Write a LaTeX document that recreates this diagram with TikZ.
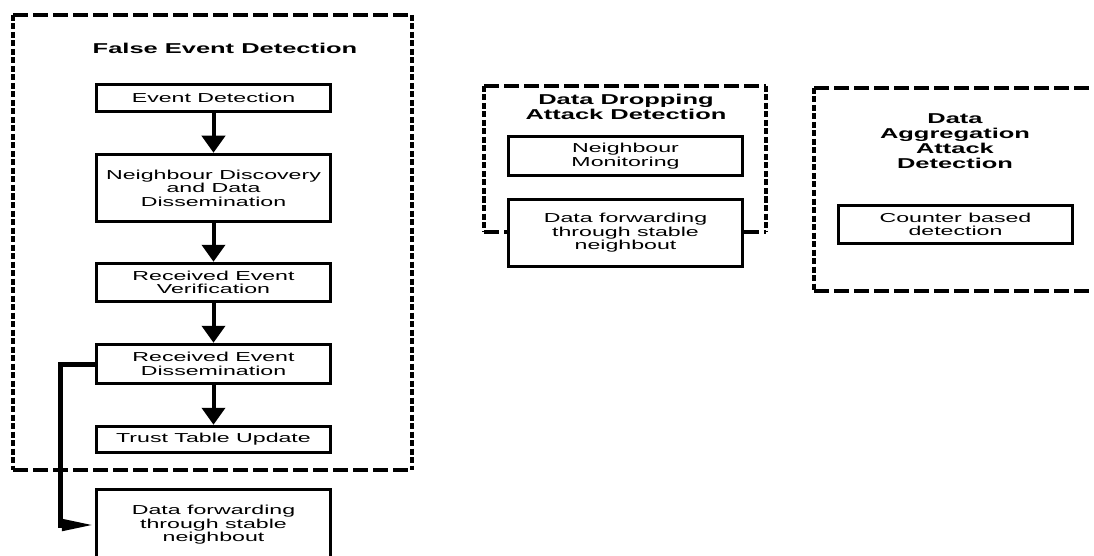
\documentclass[tikz,border=0pt]{standalone}
\usepackage{fontspec}
\setmainfont{Liberation Sans}[FakeStretch=1.78]
\usepackage{tikz}
\usetikzlibrary{arrows.meta}

\tikzset{
    stage/.style={draw, line width=3.5pt, fill=white, minimum width=234pt, inner sep=0pt,
        align=center, font=\fontsize{13}{13.5}\selectfont},
    heading/.style={align=center, font=\fontsize{14.3}{15.2}\selectfont\bfseries},
    flow/.style={line width=4pt, -{Triangle[width=23pt, length=17pt]}},
    elbow/.style={line width=5pt, -{Triangle[width=11pt, length=33pt]}},
    hdash/.style={line width=3.5pt, dash pattern=on 15pt off 5pt},
    vdash/.style={line width=4pt, dash pattern=on 6pt off 2.5pt}
}

\begin{document}
\begin{tikzpicture}[x=1pt, y=-1pt]
    \clip (0,0) rectangle (1094,556);

    % Dashed frames
    \draw[hdash] (13,15) -- (412,15) (13,470) -- (412,470);
    \draw[vdash] (13,15) -- (13,470) (412,15) -- (412,470);
    \draw[hdash] (484,86) -- (766,86) (484,232) -- (766,232);
    \draw[vdash] (484,86) -- (484,232) (766,86) -- (766,232);
    \draw[hdash] (814,88) -- (1110,88) (814,291) -- (1110,291);
    \draw[vdash] (814,88) -- (814,291);

    % Headings
    \node[heading] (fed) at (225,48) {False Event Detection};
    \node[heading] (dda) at (626,107) {Data Dropping\\Attack Detection};
    \node[heading] (daa) at (955,141) {Data\\Aggregation\\Attack\\Detection};

    % False event detection steps
    \node[stage, minimum height=27pt] (ed) at (213.5,98) {Event Detection};
    \node[stage, minimum height=67pt] (ndd) at (213.5,188) {Neighbour Discovery\\and Data\\Dissemination};
    \node[stage, minimum height=38pt] (rev) at (213.5,282.5) {Received Event\\Verification};
    \node[stage, minimum height=39pt] (red) at (213.5,364) {Received Event\\Dissemination};
    \node[stage, minimum height=26pt] (ttu) at (213.5,439.5) {Trust Table Update};
    \node[stage, minimum height=71pt] (dfl) at (213.5,525) {Data forwarding\\through stable\\neighbout};

    % Data dropping attack detection
    \node[stage, minimum height=39pt] (nm) at (625.5,156) {Neighbour\\Monitoring};
    \node[stage, minimum height=67pt] (dfm) at (625.5,233) {Data forwarding\\through stable\\neighbout};

    % Data aggregation attack detection
    \node[stage, minimum height=38pt] (cbd) at (955.5,224.5) {Counter based\\detection};

    % Arrows
    \draw[flow] (ed.south) -- (ndd.north);
    \draw[flow] (ndd.south) -- (rev.north);
    \draw[flow] (rev.south) -- (red.north);
    \draw[flow] (red.south) -- (ttu.north);
    \draw[elbow] (red.west) -- ++(-34,0) |- (dfl.west);
\end{tikzpicture}
\end{document}
